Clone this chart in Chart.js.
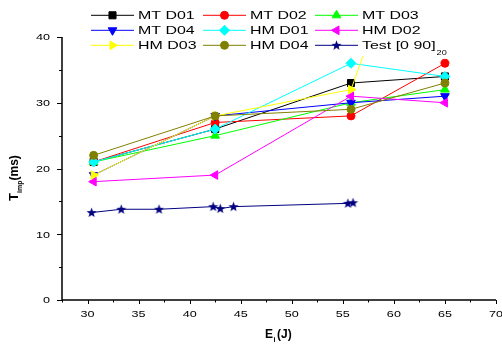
<!DOCTYPE html>
<html>
<head>
<meta charset="utf-8">
<script src="https://cdn.jsdelivr.net/npm/chart.js@4"></script>
<style>
    html, body { margin: 0; padding: 0; background: #fff; }
    #wrap { width: 502px; height: 345px; position: relative; }
</style>
</head>
<body>
<div id="wrap"><canvas id="myChart" width="502" height="345"></canvas></div>
<script>
// данные
const energy = [30.6, 42.5, 55.8, 65];
const mtD01 = [21, 26, 33, 34];
const mtD02 = [21, 27, 28, 36];
const mtD03 = [21, 25, 30, 32];
const mtD04 = [19, 28, 30, 31];
const hmD01 = [21, 26, 36, 34];
const hmD02 = [18, 19, 31, 30];
const hmD03Energy = [30.6, 42.5, 55.8, 58];
const hmD03 = [19, 28, 32, 41.5];
const hmD04 = [22, 28, 29, 33];
const testEnergy = [30.4, 33.3, 37.0, 42.3, 43.0, 44.3, 55.5, 56.0];
const testTime = [13.3, 13.8, 13.8, 14.2, 13.9, 14.2, 14.7, 14.8];

const xTicks = [30, 35, 40, 45, 50, 55, 60, 65, 70];
const yTicks = [0, 10, 20, 30, 40];

// звёздочка для серии Test
function makeStar(color) {
    const c = document.createElement('canvas');
    c.width = 11; c.height = 11;
    const g = c.getContext('2d');
    g.fillStyle = color;
    g.beginPath();
    for (let i = 0; i < 10; i++) {
        const r = i % 2 === 0 ? 5.3 : 2.2;
        const a = -Math.PI / 2 + i * Math.PI / 5;
        const px = 5.5 + r * Math.cos(a);
        const py = 5.8 + r * Math.sin(a);
        if (i === 0) g.moveTo(px, py); else g.lineTo(px, py);
    }
    g.closePath();
    g.fill();
    return c;
}
const star = makeStar('#000080');

function pts(xs, ys) {
    return xs.map((x, i) => ({ x: x, y: ys[i] }));
}

const series = [
    { label: 'MT D01', data: pts(energy, mtD01), color: '#000000', style: 'rect', radius: 5, rotation: 0 },
    { label: 'MT D02', data: pts(energy, mtD02), color: '#ff0000', style: 'circle', radius: 4, rotation: 0 },
    { label: 'MT D03', data: pts(energy, mtD03), color: '#00ff00', style: 'triangle', radius: 5, rotation: 0 },
    { label: 'MT D04', data: pts(energy, mtD04), color: '#0000ff', style: 'triangle', radius: 5, rotation: 180 },
    { label: 'HM D01', data: pts(energy, hmD01), color: '#00ffff', style: 'rectRot', radius: 5, rotation: 0 },
    { label: 'HM D02', data: pts(energy, hmD02), color: '#ff00ff', style: 'triangle', radius: 5, rotation: 270 },
    { label: 'HM D03', data: pts(hmD03Energy, hmD03), color: '#ffff00', style: 'triangle', radius: 5, rotation: 90 },
    { label: 'HM D04', data: pts(energy, hmD04), color: '#808000', style: 'circle', radius: 4, rotation: 0 },
    { label: 'Test [0 90]', sub: '20', data: pts(testEnergy, testTime), color: '#000080', style: star, radius: 5, rotation: 0 }
];

function stretchText(ctx, text, x, y, font, align, sx) {
    ctx.save();
    ctx.translate(x, y);
    ctx.scale(sx, 1);
    ctx.font = font;
    ctx.textAlign = align;
    ctx.fillText(text, 0, 0);
    ctx.restore();
}

// оси, подписи и легенда рисуются вручную
const decor = {
    id: 'decor',
    afterDraw(chart) {
        const ctx = chart.ctx;
        const xs = chart.scales.x;
        const ys = chart.scales.y;
        const area = chart.chartArea;
        ctx.save();
        ctx.strokeStyle = '#000';
        ctx.fillStyle = '#000';
        ctx.lineWidth = 1.5;
        ctx.beginPath();
        ctx.moveTo(area.left, ys.getPixelForValue(40));
        ctx.lineTo(area.left, area.bottom);
        ctx.lineTo(area.right, area.bottom);
        ctx.stroke();

        ctx.lineWidth = 1;
        ctx.beginPath();
        for (let v = 27.5; v <= 70; v += 2.5) {
            const px = Math.round(xs.getPixelForValue(v)) + 0.5;
            const len = v % 5 === 0 ? 4 : 2.5;
            ctx.moveTo(px, area.bottom);
            ctx.lineTo(px, area.bottom + len);
        }
        for (let v = 0; v <= 40; v += 5) {
            const py = Math.round(ys.getPixelForValue(v)) + 0.5;
            const len = v % 10 === 0 ? 5 : 3;
            ctx.moveTo(area.left, py);
            ctx.lineTo(area.left - len, py);
        }
        ctx.stroke();

        ctx.textBaseline = 'alphabetic';
        const tickFont = '9px "Liberation Sans", Arial, sans-serif';
        xTicks.forEach((v) => {
            stretchText(ctx, String(v), xs.getPixelForValue(v), 317, tickFont, 'center', 1.4);
        });
        yTicks.forEach((v) => {
            stretchText(ctx, String(v), 50, ys.getPixelForValue(v) + 3.3, tickFont, 'right', 1.4);
        });

        // подпись оси X
        ctx.font = 'bold 12px "Liberation Sans", Arial, sans-serif';
        ctx.textAlign = 'left';
        ctx.fillText('E', 265, 338);
        ctx.font = 'bold 7px "Liberation Sans", Arial, sans-serif';
        ctx.fillText('i', 273.5, 342);
        ctx.font = 'bold 12px "Liberation Sans", Arial, sans-serif';
        ctx.fillText('(J)', 277, 338);

        // подпись оси Y
        ctx.save();
        ctx.translate(18, 201);
        ctx.rotate(-Math.PI / 2);
        ctx.font = 'bold 13px "Liberation Sans", Arial, sans-serif';
        ctx.fillText('T', 0, 0);
        ctx.font = 'bold 7px "Liberation Sans", Arial, sans-serif';
        ctx.fillText('imp', 8, 4);
        ctx.font = 'bold 12px "Liberation Sans", Arial, sans-serif';
        ctx.fillText('(ms)', 20.5, 0);
        ctx.restore();

        // легенда
        ctx.fillStyle = '#fff';
        ctx.fillRect(88, 4, 360, 52);
        const colX = [91, 203, 315];
        const rowY = [15.3, 30.3, 45.3];
        series.forEach((s, i) => {
            const lx = colX[i % 3];
            const ly = rowY[Math.floor(i / 3)];
            ctx.strokeStyle = s.color;
            ctx.fillStyle = s.color;
            ctx.lineWidth = 1;
            ctx.beginPath();
            ctx.moveTo(lx, ly);
            ctx.lineTo(lx + 43, ly);
            ctx.stroke();
            Chart.helpers.drawPoint(ctx, {
                pointStyle: s.style, rotation: s.rotation, radius: s.radius, borderWidth: 1
            }, lx + 21.5, ly);
            ctx.fillStyle = '#000';
            ctx.textBaseline = 'middle';
            stretchText(ctx, s.label, lx + 47, ly + 0.5, '11px "Liberation Sans", Arial, sans-serif', 'left', 1.45);
            if (s.sub) {
                ctx.save();
                ctx.font = '11px "Liberation Sans", Arial, sans-serif';
                const w = ctx.measureText(s.label).width * 1.45;
                ctx.restore();
                stretchText(ctx, s.sub, lx + 48 + w, ly + 8, '7px "Liberation Sans", Arial, sans-serif', 'left', 1.3);
            }
        });
        ctx.restore();
    }
};

const ctx = document.getElementById('myChart').getContext('2d');
window.chart = new Chart(ctx, {
    type: 'line',
    data: {
        // последние серии рисуются поверх первых
        datasets: series.map((s, i) => ({
            label: s.label,
            data: s.data,
            order: -i,
            borderColor: s.color,
            backgroundColor: s.color,
            borderWidth: 1,
            pointStyle: s.style,
            pointRotation: s.rotation,
            pointRadius: s.radius,
            pointBorderWidth: 1,
            tension: 0
        }))
    },
    options: {
        responsive: false,
        animation: false,
        maintainAspectRatio: false,
        layout: { padding: { top: 37, right: 5, left: 0, bottom: 0 } },
        plugins: {
            legend: { display: false },
            tooltip: { enabled: false }
        },
        scales: {
            x: {
                type: 'linear',
                min: 27.5,
                max: 70,
                grid: { display: false },
                border: { display: false },
                ticks: { display: false },
                afterFit(scale) {
                    scale.height = 45;
                    scale.paddingLeft = 0;
                    scale.paddingRight = 0;
                }
            },
            y: {
                min: 0,
                max: 40,
                grid: { display: false },
                border: { display: false },
                ticks: { display: false },
                afterFit(scale) {
                    scale.width = 62;
                    scale.paddingTop = 0;
                    scale.paddingBottom = 0;
                }
            }
        }
    },
    plugins: [decor]
});
</script>
</body>
</html>
